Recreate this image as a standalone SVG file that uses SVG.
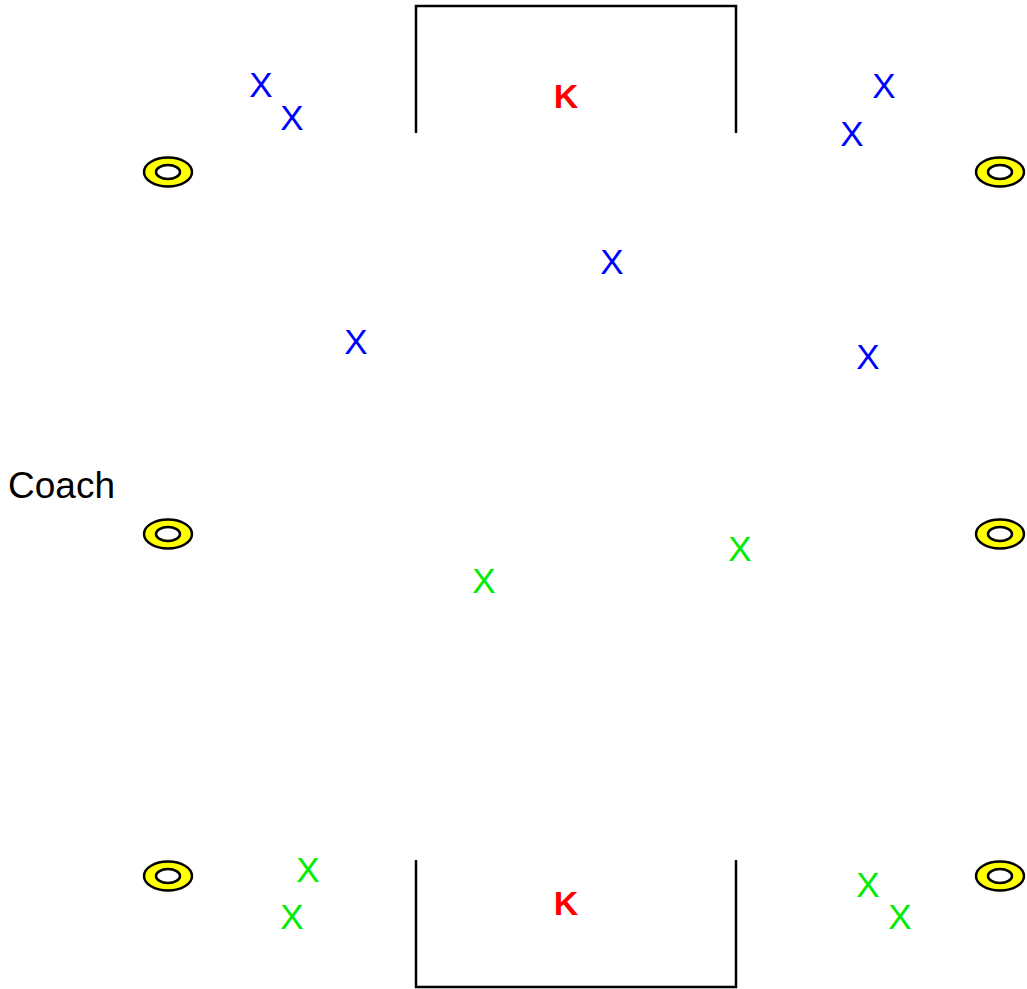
<svg xmlns="http://www.w3.org/2000/svg" width="1027" height="989" viewBox="0 0 1027 989">
<style>
.goal{fill:none;stroke:#000;stroke-width:2.5}
.cone-o{fill:#ffff00;stroke:#000;stroke-width:2.5}
.cone-i{fill:#fff;stroke:#000;stroke-width:2.5}
.x{font-family:"Liberation Sans",Arial,sans-serif;font-size:35px;text-anchor:middle}
.blue{fill:#0000ff}
.green{fill:#00ee00}
.k{font-family:"Liberation Sans",Arial,sans-serif;font-size:34px;font-weight:bold;fill:#ff0000;text-anchor:middle}
.coach{font-family:"Liberation Sans",Arial,sans-serif;font-size:37px;fill:#000}
</style>
<defs>
<g id="cone">
<ellipse class="cone-o" cx="0" cy="0" rx="24" ry="14.5"/>
<ellipse class="cone-i" cx="0" cy="0" rx="12" ry="7"/>
</g>
</defs>
<g id="goal-top"><polyline class="goal" points="416,133 416,6 736,6 736,133"/></g>
<g id="goal-bottom"><polyline class="goal" points="416,860 416,987 736,987 736,860"/></g>
<g id="cones">
<use href="#cone" x="168" y="172"/>
<use href="#cone" x="1000" y="172"/>
<use href="#cone" x="168" y="534"/>
<use href="#cone" x="1000" y="534"/>
<use href="#cone" x="168" y="876"/>
<use href="#cone" x="1000" y="876"/>
</g>
<g id="keepers">
<text class="k" x="566" y="108">K</text>
<text class="k" x="566" y="915">K</text>
</g>
<g id="blue-players">
<text class="x blue" x="261" y="97">X</text>
<text class="x blue" x="292" y="130">X</text>
<text class="x blue" x="884" y="98">X</text>
<text class="x blue" x="852" y="146">X</text>
<text class="x blue" x="612" y="274">X</text>
<text class="x blue" x="356" y="354">X</text>
<text class="x blue" x="868" y="369">X</text>
</g>
<g id="green-players">
<text class="x green" x="740" y="561">X</text>
<text class="x green" x="484" y="593">X</text>
<text class="x green" x="308" y="882">X</text>
<text class="x green" x="292" y="929">X</text>
<text class="x green" x="868" y="897">X</text>
<text class="x green" x="900" y="929">X</text>
</g>
<g id="coach"><text class="coach" x="8" y="498">Coach</text></g>
</svg>
